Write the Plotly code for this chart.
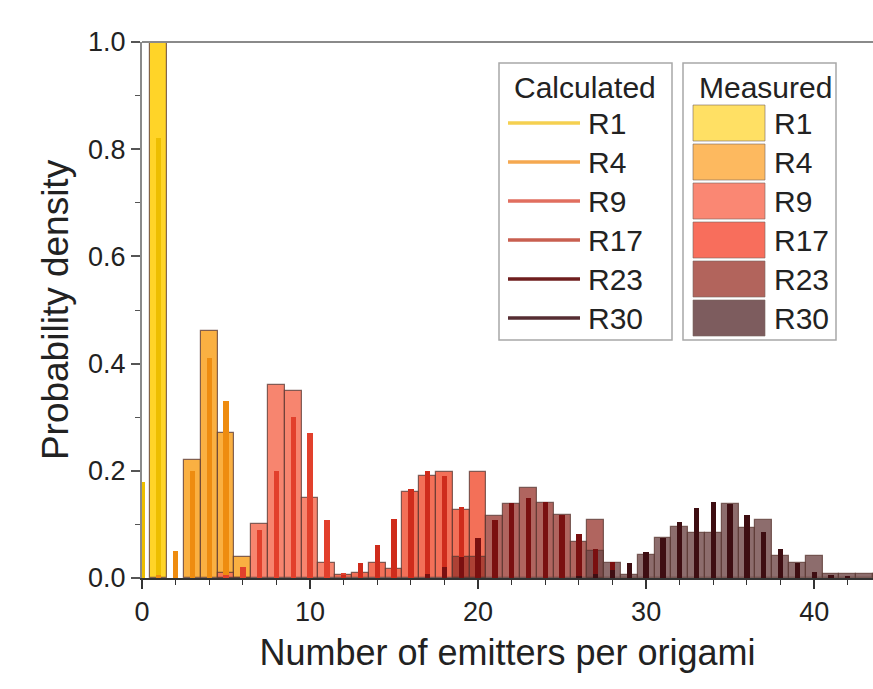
import plotly.graph_objects as go

# ---------------- data ----------------
series = ["R1", "R4", "R9", "R17", "R23", "R30"]

# calculated distributions (first x value + probabilities at consecutive integers)
calc_start = [0, 1, 5, 12, 17, 26]
calc_R1 = [0.18, 0.82]
calc_R4 = [0.005, 0.05, 0.20, 0.41, 0.33, 0.02]
calc_R9 = [0.005, 0.02, 0.09, 0.20, 0.30, 0.27, 0.108, 0.01]
calc_R17 = [0.005, 0.028, 0.062, 0.11, 0.166, 0.20, 0.19, 0.133, 0.075, 0.025, 0.005]
calc_R23 = [0.008, 0.02, 0.04, 0.075, 0.108, 0.14, 0.15, 0.142, 0.118, 0.083, 0.055, 0.03, 0.012]
calc_R30 = [0.003, 0.008, 0.015, 0.028, 0.048, 0.075, 0.105, 0.13, 0.142, 0.138,
            0.118, 0.086, 0.054, 0.028, 0.012, 0.005, 0.002]

# measured histograms
meas_start = [1, 3, 5, 12, 19, 27]
meas_R1 = [1.0]
meas_R4 = [0.22, 0.46, 0.27, 0.04]
meas_R9 = [0.01, 0.0, 0.10, 0.36, 0.348, 0.15, 0.028]
meas_R17 = [0.005, 0.01, 0.028, 0.017, 0.16, 0.19, 0.197, 0.127, 0.197]
meas_R23 = [0.04, 0.04, 0.116, 0.138, 0.168, 0.14, 0.118, 0.068, 0.108]
meas_R30 = [0.05, 0.028, 0.006, 0.043, 0.075, 0.096, 0.084, 0.084, 0.138, 0.093,
            0.108, 0.041, 0.028, 0.041, 0.008, 0.008, 0.008, 0.008]

calc_values = [calc_R1, calc_R4, calc_R9, calc_R17, calc_R23, calc_R30]
meas_values = [meas_R1, meas_R4, meas_R9, meas_R17, meas_R23, meas_R30]

x_ticks = [0, 10, 20, 30, 40]
y_ticks = [0.0, 0.2, 0.4, 0.6, 0.8, 1.0]

# ---------------- style ----------------
meas_fill = ["rgba(255,208,22,0.92)", "rgba(249,165,40,0.88)", "rgba(246,112,86,0.85)",
             "rgba(240,76,46,0.8)", "rgba(150,50,42,0.75)", "rgba(112,72,72,0.8)"]
calc_color = ["#EDBE00", "#EE8C10", "#E2402C", "#CF2C1C", "#7A1010", "#3E0E12"]
legend_swatch = ["#FFE064", "#FDB95F", "#FA8773", "#F86E5C", "#B2645C", "#7D5C5E"]
legend_line = ["#F5D050", "#F5A850", "#E16E5F", "#C85F50", "#6E1E1E", "#552D32"]
FONT = "Liberation Sans, Arial, sans-serif"

fig = go.Figure()
for name, start, vals, col in zip(series, meas_start, meas_values, meas_fill):
    fig.add_trace(go.Bar(x=list(range(start, start + len(vals))), y=vals, width=1.0,
                         name=name, marker=dict(color=col,
                                                line=dict(color="rgba(90,55,50,0.75)", width=1.2)),
                         showlegend=False))
for name, start, vals, col in zip(series, calc_start, calc_values, calc_color):
    fig.add_trace(go.Bar(x=list(range(start, start + len(vals))), y=vals, width=0.32,
                         name=name, marker=dict(color=col, line=dict(width=0)),
                         showlegend=False))

# plot area in pixels
L, R, T, B = 142, 873, 42, 578
W, H = R - L, B - T
def px(x):
    return (x - L) / W
def py(y):
    return (B - y) / H

shapes = [dict(type="line", xref="paper", yref="paper", x0=0, x1=1, y0=1, y1=1,
               line=dict(color="#8a8a8a", width=2))]
annotations = []

# custom legends
box_top, box_bot = 63, 340
for bx0, bx1 in [(499, 672), (683, 836)]:
    shapes.append(dict(type="rect", xref="paper", yref="paper", x0=px(bx0), x1=px(bx1),
                       y0=py(box_bot), y1=py(box_top), line=dict(color="#a8a8a8", width=1.5),
                       fillcolor="white"))
LF = 30
annotations.append(dict(text="Calculated", x=px(585), y=py(87), xref="paper", yref="paper",
                        showarrow=False, xanchor="center", yanchor="middle",
                        font=dict(size=LF, family=FONT, color="#222")))
annotations.append(dict(text="Measured", x=px(765), y=py(87), xref="paper", yref="paper",
                        showarrow=False, xanchor="center", yanchor="middle",
                        font=dict(size=LF, family=FONT, color="#222")))
item0, step = 123, 39
for i, name in enumerate(series):
    yc = item0 + step * i
    shapes.append(dict(type="line", xref="paper", yref="paper", x0=px(508), x1=px(580),
                       y0=py(yc), y1=py(yc), line=dict(color=legend_line[i], width=3.5)))
    annotations.append(dict(text=name, x=px(586), y=py(yc), xref="paper", yref="paper",
                            showarrow=False, xanchor="left", yanchor="middle",
                            font=dict(size=LF, family=FONT, color="#222")))
    shapes.append(dict(type="rect", xref="paper", yref="paper", x0=px(693), x1=px(765),
                       y0=py(yc + 18), y1=py(yc - 18), fillcolor=legend_swatch[i],
                       line=dict(color="rgba(120,100,95,0.6)", width=1)))
    annotations.append(dict(text=name, x=px(772), y=py(yc), xref="paper", yref="paper",
                            showarrow=False, xanchor="left", yanchor="middle",
                            font=dict(size=LF, family=FONT, color="#222")))

fig.update_layout(
    width=873, height=689,
    margin=dict(l=L, r=873 - R, t=T, b=689 - B),
    plot_bgcolor="white", paper_bgcolor="white",
    barmode="overlay", bargap=0, showlegend=False,
    font=dict(family=FONT, color="#222"),
    shapes=shapes, annotations=annotations,
    xaxis=dict(range=[0, 43.5], tickmode="array", tickvals=x_ticks,
               ticks="outside", ticklen=9, tickwidth=1.5, tickcolor="#333",
               showline=True, linecolor="#333", linewidth=1.5,
               minor=dict(dtick=2, tick0=0, ticks="outside", ticklen=5, tickcolor="#333", tickwidth=1.2),
               showgrid=False, zeroline=False, tickfont=dict(size=27, color="#222"),
               title=dict(text="Number of emitters per origami", font=dict(size=36, color="#222"),
                          standoff=14)),
    yaxis=dict(range=[0, 1.0], tickmode="array", tickvals=y_ticks, tickformat=".1f",
               ticks="outside", ticklen=9, tickwidth=1.5, tickcolor="#555",
               showline=True, linecolor="#8a8a8a", linewidth=2,
               minor=dict(dtick=0.1, tick0=0, ticks="outside", ticklen=5, tickcolor="#555", tickwidth=1.2),
               showgrid=False, zeroline=False, tickfont=dict(size=27, color="#222"),
               title=dict(text="Probability density", font=dict(size=37, color="#222"),
                          standoff=8)),
)

fig.write_html("out.html")
